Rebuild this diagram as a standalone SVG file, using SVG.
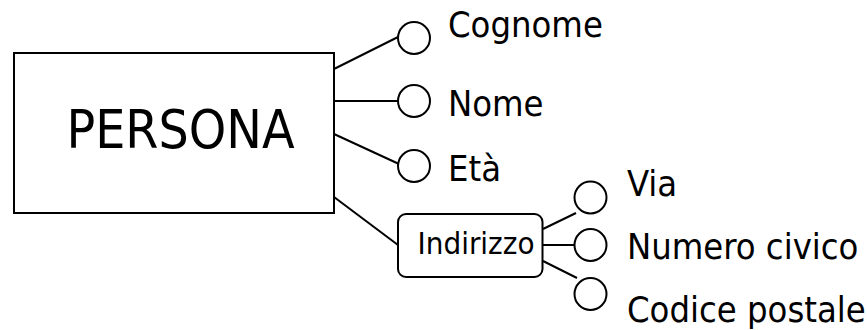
<svg xmlns="http://www.w3.org/2000/svg" width="867" height="330" viewBox="0 0 867 330">
  <style>
    .shape { fill: #ffffff; stroke: #000000; stroke-width: 2; }
    .link { fill: none; stroke: #000000; stroke-width: 2; }
    text { font-family: "DejaVu Sans Condensed", "DejaVu Sans", sans-serif; font-stretch: condensed; fill: #000000; }
    .entity { font-size: 53px; }
    .attr { font-size: 36px; }
    .comp { font-size: 31px; }
  </style>
  <rect width="867" height="330" fill="#ffffff"/>

  <!-- connectors -->
  <g id="connectors">
    <line class="link" x1="334" y1="69" x2="398" y2="37"/>
    <line class="link" x1="334" y1="101" x2="398" y2="101"/>
    <line class="link" x1="334" y1="134" x2="399" y2="164"/>
    <line class="link" x1="334" y1="197" x2="398" y2="245"/>
    <line class="link" x1="543" y1="229" x2="576" y2="213"/>
    <line class="link" x1="543" y1="245" x2="574.5" y2="245"/>
    <line class="link" x1="543" y1="261" x2="577" y2="278"/>
  </g>

  <!-- entity -->
  <g id="persona">
    <rect class="shape" x="14" y="53" width="320" height="160"/>
    <text class="entity" x="180.5" y="148" text-anchor="middle">PERSONA</text>
  </g>

  <!-- simple attributes -->
  <g id="cognome">
    <circle class="shape" cx="414" cy="38" r="16"/>
    <text class="attr" x="448" y="37">Cognome</text>
  </g>
  <g id="nome">
    <circle class="shape" cx="414" cy="101" r="16"/>
    <text class="attr" x="448" y="116">Nome</text>
  </g>
  <g id="eta">
    <circle class="shape" cx="414" cy="166" r="16"/>
    <text class="attr" x="448" y="181">Età</text>
  </g>

  <!-- composite attribute -->
  <g id="indirizzo">
    <rect class="shape" x="398" y="214" width="144.5" height="63" rx="8" ry="8"/>
    <text class="comp" x="476" y="254" text-anchor="middle">Indirizzo</text>
  </g>
  <g id="via">
    <circle class="shape" cx="590.5" cy="197.5" r="16"/>
    <text class="attr" x="627" y="196">Via</text>
  </g>
  <g id="numero-civico">
    <circle class="shape" cx="590.5" cy="245" r="16"/>
    <text class="attr" x="627" y="259">Numero civico</text>
  </g>
  <g id="codice-postale">
    <circle class="shape" cx="590.5" cy="294" r="16"/>
    <text class="attr" x="627" y="322">Codice postale</text>
  </g>
</svg>
